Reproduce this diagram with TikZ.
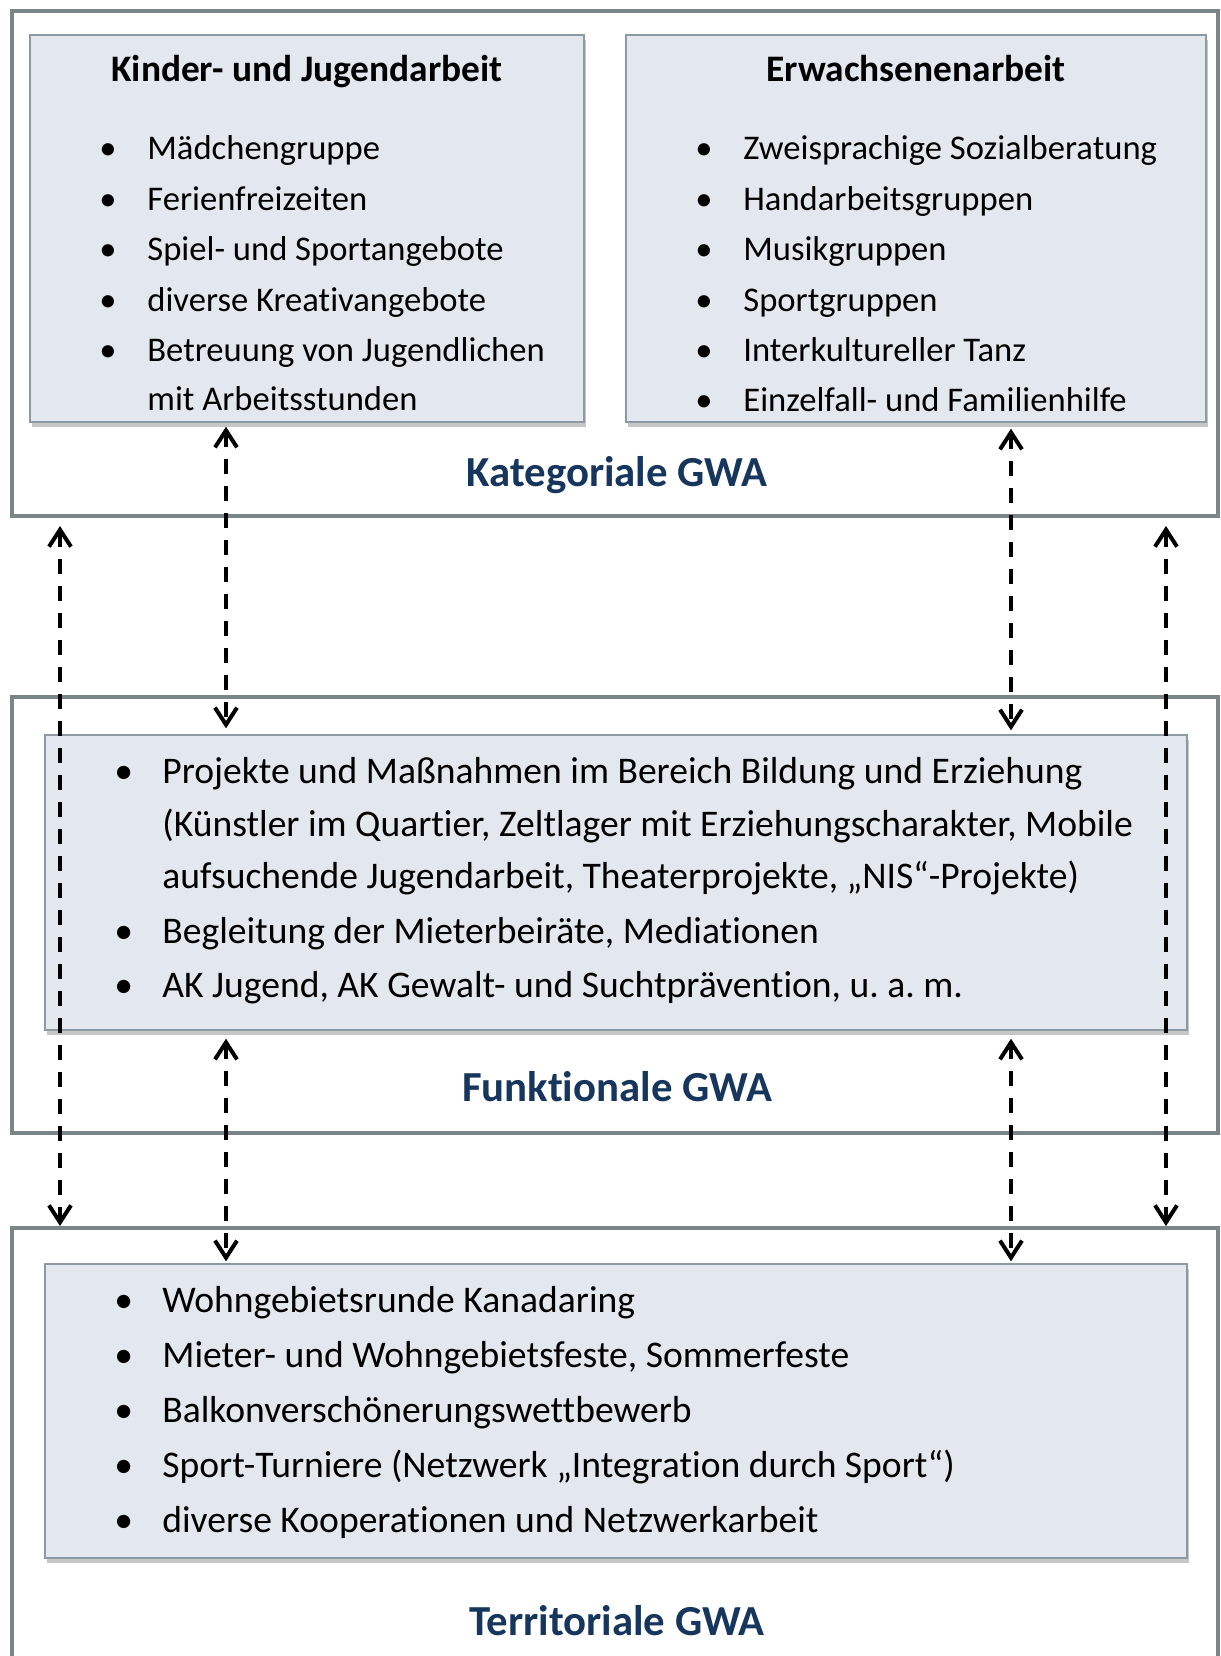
\documentclass[tikz,border=0pt]{standalone}
\usepackage{fontspec}
\setmainfont{Carlito}[Ligatures=NoCommon]
\usepackage{tikz}
\usetikzlibrary{arrows.meta,fit,shadows,calc}
\definecolor{gwaframe}{HTML}{7A8587}
\definecolor{gwafill}{HTML}{E3E7EE}
\definecolor{gwaedge}{HTML}{8D99A3}
\definecolor{gwatitle}{HTML}{17365D}
\newcommand{\itm}{\llap{\makebox[24pt][l]{\textbullet}}}
\frenchspacing

\begin{document}
\begin{tikzpicture}[
  x=0.5pt, y=-0.5pt,
  frame/.style={draw=gwaframe, line width=2pt, inner sep=0pt},
  panel/.style={draw=gwaedge, line width=0.7pt, fill=gwafill, inner sep=0pt,
    drop shadow={shadow xshift=1pt, shadow yshift=-2.5pt, opacity=0.45, fill=gray}},
  item/.style={anchor=base west, inner sep=0pt, font=\fontsize{17.3}{20}\selectfont},
  bigitem/.style={item, font=\fontsize{18.8}{22}\selectfont},
  head/.style={anchor=base, inner sep=0pt, font=\fontsize{18.7}{22}\selectfont\bfseries},
  title/.style={anchor=base, inner sep=0pt, text=gwatitle, font=\fontsize{21.4}{25}\selectfont\bfseries},
  link/.style={{Straight Barb[length=8.5pt,width=11pt]}-{Straight Barb[length=8.5pt,width=11pt]},
    line width=2pt, dash pattern=on 7.5pt off 6pt}
]
  \useasboundingbox (0,0) rectangle (1221,1656);

  % outer frames
  \node[frame, fit={(12,11) (1218,516)}] (kat) {};
  \node[frame, fit={(12,697) (1218,1133)}] (fun) {};
  \node[frame, fit={(12,1228) (1218,1700)}] (ter) {};

  % inner panels
  \node[panel, fit={(30,35) (584,422)}] (kinder) {};
  \node[panel, fit={(626,35) (1206,422)}] (erw) {};
  \node[panel, fit={(45,735) (1187,1030)}] (funbox) {};
  \node[panel, fit={(45,1264) (1187,1558)}] (terbox) {};

  % Kategoriale GWA
  \node[head] (kinderhead) at (307,81) {Kinder- und Jugendarbeit};
  \node[item] (kj1) at (147,159) {\itm Mädchengruppe};
  \node[item] (kj2) at (147,210) {\itm Ferienfreizeiten};
  \node[item] (kj3) at (147,260) {\itm Spiel- und Sportangebote};
  \node[item] (kj4) at (147,311) {\itm diverse Kreativangebote};
  \node[item] (kj5) at (147,361) {\itm Betreuung von Jugendlichen};
  \node[item] (kj6) at (147,410) {mit Arbeitsstunden};

  \node[head] (erwhead) at (916,81) {Erwachsenenarbeit};
  \node[item] (ew1) at (743,159) {\itm Zweisprachige Sozialberatung};
  \node[item] (ew2) at (743,210) {\itm Handarbeitsgruppen};
  \node[item] (ew3) at (743,260) {\itm Musikgruppen};
  \node[item] (ew4) at (743,311) {\itm Sportgruppen};
  \node[item] (ew5) at (743,361) {\itm Interkultureller Tanz};
  \node[item] (ew6) at (743,411) {\itm Einzelfall- und Familienhilfe};

  \node[title] (kattitle) at (617,486) {Kategoriale GWA};

  % Funktionale GWA
  \node[bigitem] (fu1) at (162,783) {\itm Projekte und Maßnahmen im Bereich Bildung und Erziehung};
  \node[bigitem] (fu2) at (162,836) {(Künstler im Quartier, Zeltlager mit Erziehungscharakter, Mobile};
  \node[bigitem] (fu3) at (162,888) {aufsuchende Jugendarbeit, Theaterprojekte, „NIS“-Projekte)};
  \node[bigitem] (fu4) at (162,943) {\itm Begleitung der Mieterbeiräte, Mediationen};
  \node[bigitem] (fu5) at (162,997) {\itm AK Jugend, AK Gewalt- und Suchtprävention, u. a. m.};

  \node[title] (funtitle) at (617,1101) {Funktionale GWA};

  % Territoriale GWA
  \node[bigitem] (te1) at (162,1312) {\itm Wohngebietsrunde Kanadaring};
  \node[bigitem] (te2) at (162,1367) {\itm Mieter- und Wohngebietsfeste, Sommerfeste};
  \node[bigitem] (te3) at (162,1422) {\itm Balkonverschönerungswettbewerb};
  \node[bigitem] (te4) at (162,1477) {\itm Sport-Turniere (Netzwerk „Integration durch Sport“)};
  \node[bigitem] (te5) at (162,1532) {\itm diverse Kooperationen und Netzwerkarbeit};

  \node[title] (tertitle) at (617,1635) {Territoriale GWA};

  % connectors
  \coordinate (colL) at (60,0);
  \coordinate (colA) at (226,0);
  \coordinate (colB) at (1011,0);
  \coordinate (colR) at (1166,0);

  \draw[link, shorten <=4pt] (kat.south -| colL) -- (ter.north -| colL);
  \draw[link, shorten <=4pt] (kat.south -| colR) -- (ter.north -| colR);
  \draw[link, shorten <=2pt, shorten >=3pt] (kinder.south -| colA) -- (funbox.north -| colA);
  \draw[link, shorten <=3pt, shorten >=2pt] (erw.south -| colB) -- (funbox.north -| colB);
  \draw[link, shorten <=4pt, shorten >=1pt] (funbox.south -| colA) -- (terbox.north -| colA);
  \draw[link, shorten <=4pt, shorten >=1pt] (funbox.south -| colB) -- (terbox.north -| colB);
\end{tikzpicture}
\end{document}
